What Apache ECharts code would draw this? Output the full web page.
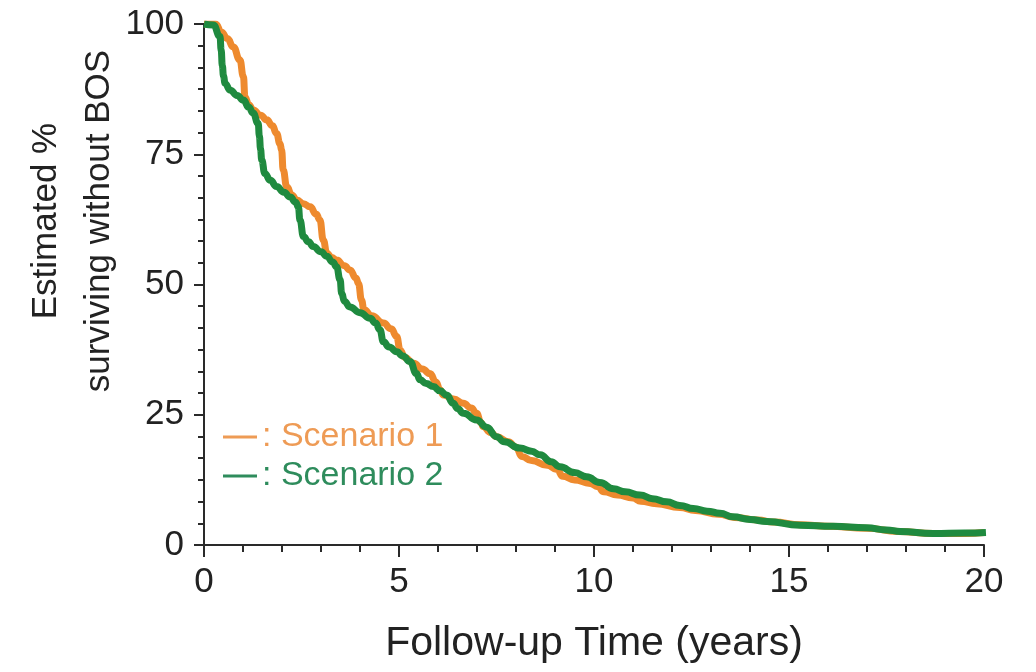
<!DOCTYPE html>
<html>
<head>
<meta charset="utf-8">
<style>
  html, body { margin: 0; padding: 0; background: #fff; }
  #chart { width: 1036px; height: 672px; }
</style>
<script src="https://cdn.jsdelivr.net/npm/echarts@6/dist/echarts.min.js"></script>
</head>
<body>
<div id="chart"></div>
<script>
// Estimated survival without BOS, two modelled scenarios: [years, percent]
const scenario1 = [
  [0, 100], [0.3, 100], [0.45, 98.4], [0.6, 97.2], [0.75, 95.6], [0.92, 93.1], [1.01, 89.9],
  [1.05, 86.0], [1.15, 84.5], [1.26, 83.5], [1.45, 82.5], [1.61, 81.6], [1.75, 80.5],
  [1.86, 79.0], [1.95, 77.0], [1.99, 75.8], [2.03, 72.0], [2.12, 68.8], [2.25, 67.2],
  [2.38, 66.2], [2.55, 65.5], [2.72, 64.9], [2.88, 63.5], [2.97, 62.4], [3.06, 58.5],
  [3.15, 56.0], [3.27, 55.2], [3.4, 54.7], [3.6, 53.6], [3.74, 52.8], [3.9, 51.2],
  [3.96, 50.2], [4.04, 47.0], [4.1, 45.2], [4.3, 44.0], [4.6, 42.6], [4.8, 41.5],
  [4.94, 40.0], [5.03, 37.4], [5.15, 36.0], [5.37, 34.9], [5.6, 33.8], [5.79, 32.9],
  [5.95, 31.3], [6.05, 29.8], [6.14, 28.8], [6.4, 28.0], [6.65, 27.2], [6.85, 26.3],
  [6.99, 25.3], [7.1, 23.5], [7.16, 22.7], [7.35, 21.6], [7.5, 20.8], [7.8, 19.8],
  [8.0, 18.8], [8.15, 17.0], [8.4, 16.2], [8.8, 15.3], [9.05, 14.5], [9.2, 13.2],
  [9.5, 12.5], [9.9, 11.8], [10.1, 11.2], [10.25, 10.2], [10.6, 9.6], [11.0, 9.0],
  [11.2, 8.4], [11.6, 7.9], [12.2, 7.2], [12.6, 6.6], [13.2, 5.9], [13.6, 5.3],
  [14.2, 4.8], [14.6, 4.4], [15.3, 3.9], [16.0, 3.6], [17.0, 3.2], [17.8, 2.6],
  [18.7, 2.2], [19.5, 2.2], [20.0, 2.4]
];

const scenario2 = [
  [0, 100], [0.24, 99.8], [0.41, 97.6], [0.44, 95.0], [0.47, 92.0], [0.5, 90.0],
  [0.54, 88.6], [0.67, 87.3], [0.85, 86.3], [1.01, 85.4], [1.15, 84.0], [1.26, 82.9],
  [1.39, 80.9], [1.42, 78.5], [1.45, 76.0], [1.48, 73.9], [1.56, 71.3], [1.7, 70.0],
  [1.86, 68.8], [2.05, 67.7], [2.21, 66.8], [2.35, 65.8], [2.42, 64.9], [2.46, 62.4],
  [2.55, 59.2], [2.68, 58.2], [2.8, 57.3], [3.0, 56.3], [3.15, 55.4], [3.3, 54.3],
  [3.4, 53.4], [3.49, 50.9], [3.53, 48.3], [3.6, 46.8], [3.74, 45.7], [4.0, 44.6],
  [4.26, 43.5], [4.4, 42.6], [4.51, 41.3], [4.6, 39.0], [4.75, 38.0], [4.94, 37.1],
  [5.1, 36.3], [5.28, 35.2], [5.45, 32.9], [5.54, 31.7], [5.7, 31.0], [5.88, 30.4],
  [6.05, 29.6], [6.22, 28.8], [6.39, 27.2], [6.5, 26.2], [6.65, 25.3], [6.99, 24.0],
  [7.25, 22.6], [7.5, 20.8], [7.7, 19.8], [8.1, 18.6], [8.4, 18.0], [8.62, 17.3],
  [8.9, 16.0], [9.13, 15.0], [9.5, 13.9], [9.81, 13.1], [10.15, 12.0], [10.5, 10.8],
  [10.8, 10.2], [11.18, 9.6], [11.5, 8.9], [11.86, 8.3], [12.2, 7.6], [12.55, 7.0],
  [12.9, 6.5], [13.23, 6.1], [13.56, 5.4], [14.0, 4.9], [14.43, 4.5], [15.28, 3.8],
  [16.13, 3.6], [16.99, 3.3], [17.5, 2.9], [17.85, 2.6], [18.7, 2.2], [19.5, 2.3],
  [20.05, 2.4]
];

const seriesNames = ['Scenario 1', 'Scenario 2'];
const seriesColors = ['#EE8A2E', '#1F8A3F'];
const legendTextColors = ['#EE9B55', '#2E8C5C'];

const xTitle = 'Follow-up Time (years)';
const yTitleLines = ['Estimated %', 'surviving without BOS'];

const axisColor = '#2a2a2a';
const fontFamily = '"Liberation Sans", Arial, Helvetica, sans-serif';

const chart = echarts.init(document.getElementById('chart'), null, { renderer: 'canvas' });

chart.setOption({
  animation: false,
  backgroundColor: '#ffffff',
  grid: { left: 204, right: 52, top: 24, bottom: 127, containLabel: false },
  xAxis: {
    type: 'value',
    min: 0, max: 20, interval: 5,
    name: xTitle,
    nameLocation: 'middle',
    nameGap: 78,
    nameTextStyle: { fontFamily, fontSize: 41, color: '#222' },
    axisLine: { show: true, lineStyle: { color: axisColor, width: 2 } },
    axisTick: { show: true, length: 12, lineStyle: { color: axisColor, width: 2 } },
    minorTick: { show: true, splitNumber: 5, length: 7, lineStyle: { color: axisColor, width: 2 } },
    splitLine: { show: false },
    axisLabel: { fontFamily, fontSize: 35, color: '#222', margin: 20 }
  },
  yAxis: {
    type: 'value',
    min: 0, max: 100, interval: 25,
    axisLine: { show: true, lineStyle: { color: axisColor, width: 2 } },
    axisTick: { show: true, length: 10, lineStyle: { color: axisColor, width: 2 } },
    minorTick: { show: true, splitNumber: 6, length: 6, lineStyle: { color: axisColor, width: 2 } },
    splitLine: { show: false },
    axisLabel: { fontFamily, fontSize: 35, color: '#222', margin: 20 }
  },
  legend: {
    orient: 'vertical',
    left: 218,
    top: 415,
    itemWidth: 34,
    itemHeight: 3,
    itemGap: 5,
    icon: 'rect',
    formatter: ': {name}',
    data: seriesNames.map((n, i) => ({
      name: n,
      itemStyle: { color: legendTextColors[i] },
      textStyle: { color: legendTextColors[i], fontFamily, fontSize: 34 }
    }))
  },
  graphic: [{
    type: 'text',
    x: 73,
    y: 221,
    rotation: Math.PI / 2,
    style: {
      text: yTitleLines.join('\n'),
      fontFamily,
      fontSize: 35,
      lineHeight: 53,
      fill: '#222',
      align: 'center',
      verticalAlign: 'middle'
    }
  }],
  series: [scenario1, scenario2].map((d, i) => ({
    name: seriesNames[i],
    type: 'line',
    data: d,
    showSymbol: false,
    smooth: 0.5,
    smoothMonotone: 'x',
    z: 2 + i,
    lineStyle: { color: seriesColors[i], width: 7 },
    itemStyle: { color: seriesColors[i] }
  }))
});
</script>
</body>
</html>
